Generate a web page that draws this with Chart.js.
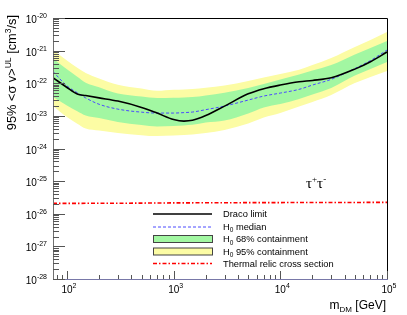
<!DOCTYPE html>
<html><head><meta charset="utf-8">
<script src="https://cdn.jsdelivr.net/npm/chart.js@4/dist/chart.umd.min.js"></script>
<style>html,body{margin:0;padding:0;background:#fff}canvas{display:block}</style>
</head><body>
<canvas id="c" width="407" height="315"></canvas>
<script>
// ---- data (GeV, cm^3/s) ----
const masses = [74, 100, 125, 150, 200, 300, 500, 700, 1000, 1250, 1500, 2000, 3000, 5000, 7000, 10000, 15000, 20000, 30000, 50000, 70000, 100000];
const dracoLimit = [1.48e-22, 7.4e-23, 4.67e-23, 4.2e-23, 3.56e-23, 2.84e-23, 1.82e-23, 1.22e-23, 7.7e-24, 6.9e-24, 7.3e-24, 1.02e-23, 1.99e-23, 4.73e-23, 6.8e-23, 8.8e-23, 1.11e-22, 1.22e-22, 1.47e-22, 2.71e-22, 4.57e-22, 9.06e-22];
const h0Median = [2.29e-22, 8.3e-23, 5.12e-23, 3.54e-23, 2.27e-23, 1.61e-23, 1.30e-23, 1.22e-23, 1.22e-23, 1.26e-23, 1.31e-23, 1.55e-23, 2.0e-23, 3.05e-23, 4.05e-23, 5.0e-23, 6.5e-23, 8.8e-23, 1.32e-22, 2.83e-22, 4.97e-22, 1.04e-21];
const band68Upper = [5.73e-22, 2.69e-22, 1.58e-22, 1.04e-22, 7.53e-23, 4.83e-23, 3.91e-23, 3.51e-23, 3.61e-23, 3.69e-23, 3.77e-23, 4.23e-23, 5.08e-23, 7.13e-23, 9.45e-23, 1.30e-22, 1.84e-22, 2.44e-22, 3.61e-22, 7.59e-22, 1.20e-21, 1.97e-21];
const band68Lower = [3.77e-23, 2.07e-23, 1.39e-23, 1.03e-23, 8.57e-24, 6.5e-24, 5.22e-24, 4.70e-24, 4.87e-24, 5.1e-24, 5.33e-24, 6.23e-24, 7.17e-24, 1.18e-23, 1.80e-23, 2.30e-23, 3.27e-23, 4.5e-23, 7.13e-23, 1.72e-22, 2.73e-22, 4.47e-22];
const band95Upper = [1.04e-21, 4.97e-22, 3.01e-22, 2.06e-22, 1.41e-22, 8.99e-23, 6.87e-23, 5.85e-23, 6.28e-23, 6.45e-23, 6.64e-23, 7.23e-23, 8.5e-23, 1.17e-22, 1.50e-22, 1.91e-22, 2.61e-22, 3.61e-22, 5.93e-22, 1.29e-21, 2.11e-21, 3.72e-21];
const band95Lower = [2.0e-23, 9.19e-24, 5.77e-24, 4.07e-24, 3.54e-24, 2.97e-24, 2.57e-24, 2.40e-24, 2.49e-24, 2.58e-24, 2.67e-24, 2.97e-24, 3.66e-24, 5.80e-24, 8.87e-24, 1.22e-23, 1.93e-23, 2.65e-23, 4.35e-23, 1.01e-22, 1.55e-22, 2.37e-22];
const relicMasses = [74, 300, 1000, 10000, 100000];
const relicValues = [2.08e-26, 2.1e-26, 2.15e-26, 2.2e-26, 2.23e-26];
const yExponents = [-28, -27, -26, -25, -24, -23, -22, -21, -20];
const xExponents = [2, 3, 4, 5];
const legendLabels = ['Draco limit', 'H0 median', 'H0 68% containment', 'H0 95% containment', 'Thermal relic cross section'];
const channelLabel = ['τ', '+', 'τ', '-'];

const pts = (xs, ys) => xs.map((x, i) => ({x: x, y: ys[i]}));
const SANS = '"Liberation Sans", Arial, Helvetica, sans-serif';
const SERIF = '"Liberation Serif", "Times New Roman", serif';

function rich(ctx, parts, x, y, align, fam) {
  fam = fam || SANS;
  let w = 0;
  parts.forEach(p => { ctx.font = p[1] + 'px ' + fam; w += ctx.measureText(p[0]).width; });
  let sx = align === 'right' ? x - w : align === 'center' ? x - w / 2 : x;
  parts.forEach(p => { ctx.font = p[1] + 'px ' + fam; ctx.fillText(p[0], sx, y + (p[2] || 0)); sx += ctx.measureText(p[0]).width; });
  return w;
}

const rootAxes = {
  id: 'rootAxes',
  afterDraw(chart) {
    const ctx = chart.ctx, a = chart.chartArea, xs = chart.scales.x, ys = chart.scales.y;
    ctx.save();
    ctx.lineWidth = 1;
    // frame
    ctx.strokeStyle = '#000';
    ctx.beginPath(); ctx.moveTo(a.left, a.top + 0.5); ctx.lineTo(a.right + 0.5, a.top + 0.5); ctx.lineTo(a.right + 0.5, a.bottom); ctx.stroke();
    ctx.strokeStyle = '#707070';
    ctx.beginPath(); ctx.moveTo(a.left + 0.5, a.top); ctx.lineTo(a.left + 0.5, a.bottom); ctx.stroke();
    ctx.strokeStyle = '#7878a8';
    ctx.beginPath(); ctx.moveTo(a.left, a.bottom + 0.5); ctx.lineTo(a.right + 1, a.bottom + 0.5); ctx.stroke();
    // y ticks
    ctx.strokeStyle = '#555';
    yExponents.forEach(n => {
      for (let k = 1; k <= 9; k++) {
        const v = k * Math.pow(10, n);
        if (v > ys.max * 1.0001 || v < ys.min * 0.9999) continue;
        const py = Math.round(ys.getPixelForValue(v)) + 0.5;
        const len = k === 1 ? 12 : 6;
        ctx.beginPath(); ctx.moveTo(a.left, py); ctx.lineTo(a.left + len, py); ctx.stroke();
      }
    });
    // x ticks
    [1, 2, 3, 4, 5].forEach(n => {
      for (let k = 1; k <= 9; k++) {
        const v = k * Math.pow(10, n);
        if (v > xs.max * 1.0001 || v < xs.min) continue;
        const px = Math.round(xs.getPixelForValue(v)) + 0.5;
        const len = k === 1 ? 8 : 4;
        ctx.beginPath(); ctx.moveTo(px, a.bottom); ctx.lineTo(px, a.bottom - len); ctx.stroke();
      }
    });
    // tick labels
    ctx.fillStyle = '#000';
    ctx.textBaseline = 'alphabetic';
    yExponents.forEach(n => {
      const py = ys.getPixelForValue(Math.pow(10, n));
      rich(ctx, [['10', 10, 0], [String(n), 7, -5]], 47, py + 5, 'right');
    });
    xExponents.forEach(n => {
      const px = xs.getPixelForValue(Math.pow(10, n));
      rich(ctx, [['10', 10, 0], [String(n), 7, -5]], px + 2, 293, 'center');
    });
    // axis titles
    rich(ctx, [['m', 12, 0], ['DM', 8, 3], [' [GeV]', 12, 0]], 386, 309, 'right');
    ctx.save();
    ctx.translate(16, 15);
    ctx.rotate(-Math.PI / 2);
    rich(ctx, [['95% <σ v>', 12.8, 0], ['UL', 8.5, -5], [' [cm', 12.8, 0], ['3', 8.5, -5], ['/s]', 12.8, 0]], 0, 0, 'right');
    ctx.restore();
    // channel label
    rich(ctx, [[channelLabel[0], 15, 0], [channelLabel[1], 9, -6], [channelLabel[2], 15, 0], [channelLabel[3], 9, -6]], 306, 188, 'left', SERIF);
    // legend
    const rows = [214, 226.5, 239, 251.5, 263.5];
    const x0 = 153, x1 = 212, tx = 223;
    ctx.lineWidth = 1.6; ctx.strokeStyle = '#000'; ctx.setLineDash([]);
    ctx.beginPath(); ctx.moveTo(x0, rows[0]); ctx.lineTo(x1, rows[0]); ctx.stroke();
    ctx.lineWidth = 1; ctx.strokeStyle = '#4a4aff'; ctx.setLineDash([3, 2]);
    ctx.beginPath(); ctx.moveTo(x0, rows[1] + 0.5); ctx.lineTo(x1, rows[1] + 0.5); ctx.stroke();
    ctx.setLineDash([]);
    ctx.fillStyle = '#a2f7a2'; ctx.fillRect(x0, rows[2] - 3.5, x1 - x0, 7);
    ctx.strokeStyle = '#444'; ctx.strokeRect(x0 + 0.5, rows[2] - 3.5, x1 - x0, 7);
    ctx.fillStyle = '#fcfca4'; ctx.fillRect(x0, rows[3] - 3.5, x1 - x0, 7);
    ctx.strokeRect(x0 + 0.5, rows[3] - 3.5, x1 - x0, 7);
    ctx.lineWidth = 1.6; ctx.strokeStyle = '#ff0000'; ctx.setLineDash([4, 2, 1.5, 2]);
    ctx.beginPath(); ctx.moveTo(x0, rows[4]); ctx.lineTo(x1, rows[4]); ctx.stroke();
    ctx.setLineDash([]);
    ctx.fillStyle = '#000';
    legendLabels.forEach((lab, i) => {
      const y = rows[i] + 3.3;
      if (lab.startsWith('H0')) {
        rich(ctx, [['H', 9.3, 0], ['0', 6.5, 2.5], [lab.slice(2), 9.3, 0]], tx, y, 'left');
      } else {
        rich(ctx, [[lab, 9.3, 0]], tx, y, 'left');
      }
    });
    ctx.restore();
  }
};

const common = {pointRadius: 0, pointHoverRadius: 0, cubicInterpolationMode: 'monotone'};
new Chart(document.getElementById('c'), {
  type: 'line',
  data: {
    datasets: [
      Object.assign({label: 'Draco limit', data: pts(masses, dracoLimit), borderColor: '#000', borderWidth: 1.6, fill: false, order: 1}, common),
      Object.assign({label: 'H0 median', data: pts(masses, h0Median), borderColor: '#4a4aff', borderWidth: 1, borderDash: [3, 2], fill: false, order: 2}, common),
      Object.assign({label: 'Thermal relic', data: pts(relicMasses, relicValues), borderColor: '#ff0000', borderWidth: 1.6, borderDash: [4, 2, 1.5, 2], fill: false, order: 3}, common),
      Object.assign({label: '68 up', data: pts(masses, band68Upper), borderColor: 'rgba(0,0,0,0)', borderWidth: 0, backgroundColor: '#a2f7a2', fill: '+1', order: 8}, common),
      Object.assign({label: '68 low', data: pts(masses, band68Lower), borderColor: 'rgba(0,0,0,0)', borderWidth: 0, fill: false, order: 8}, common),
      Object.assign({label: '95 up', data: pts(masses, band95Upper), borderColor: 'rgba(0,0,0,0)', borderWidth: 0, backgroundColor: '#fcfca4', fill: '+1', order: 10}, common),
      Object.assign({label: '95 low', data: pts(masses, band95Lower), borderColor: 'rgba(0,0,0,0)', borderWidth: 0, fill: false, order: 10}, common)
    ]
  },
  options: {
    responsive: false, animation: false, devicePixelRatio: 1, events: [],
    layout: {padding: {left: 0, right: 20, top: 18, bottom: 0}},
    plugins: {legend: {display: false}, tooltip: {enabled: false}},
    scales: {
      x: {type: 'logarithmic', min: 74, max: 100000, grid: {display: false}, border: {display: false}, ticks: {display: false},
          afterFit: s => { s.height = 36; }},
      y: {type: 'logarithmic', min: 1e-28, max: 1e-20, grid: {display: false}, border: {display: false}, ticks: {display: false},
          afterFit: s => { s.width = 53; }}
    }
  },
  plugins: [rootAxes]
});
</script>
</body></html>
